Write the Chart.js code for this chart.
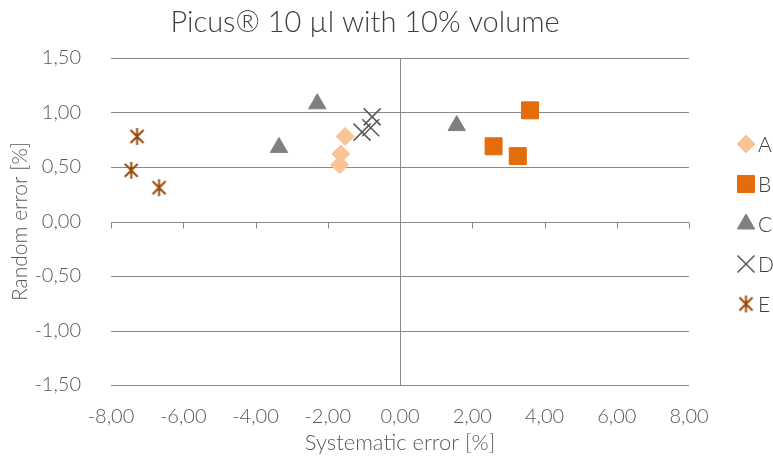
<!DOCTYPE html>
<html lang="en">
<head>
<meta charset="UTF-8">
<title>Picus 10 µl with 10% volume</title>
<script src="https://cdn.jsdelivr.net/npm/chart.js"></script>
<style>
  html, body { margin: 0; padding: 0; background: #fff; }
  #wrap { width: 773px; height: 462px; }
</style>
</head>
<body>
<div id="wrap"><canvas id="errChart"></canvas></div>
<script>
// values (systematic error, random error)
const seriesNames = ['A', 'B', 'C', 'D', 'E'];
const aX = [-1.52, -1.64, -1.67];
const aY = [0.78, 0.62, 0.52];
const bX = [3.60, 2.59, 3.26];
const bY = [1.02, 0.69, 0.60];
const cX = [-2.29, -3.35, 1.57];
const cY = [1.08, 0.68, 0.88];
const dX = [-0.77, -0.81, -1.05];
const dY = [0.96, 0.86, 0.82];
const eX = [-7.28, -7.44, -6.67];
const eY = [0.78, 0.47, 0.31];
const xTickValues = [-8, -6, -4, -2, 0, 2, 4, 6, 8];
const yTickValues = [-1.5, -1, -0.5, 0, 0.5, 1, 1.5];

const FONT = "Lato, 'Open Sans', sans-serif";
const gridGray = '#8a8a8a';

function pts(xs, ys) {
  return xs.map((x, i) => ({ x: x, y: ys[i] }));
}
function fmt(v) {
  return v.toFixed(2).replace('.', ',');
}

// asterisk marker like the spreadsheet one: vertical bar + X
function makeStar(color) {
  const s = 19;
  const c = document.createElement('canvas');
  c.width = s; c.height = s;
  const g = c.getContext('2d');
  g.strokeStyle = color;
  g.lineWidth = 2;
  g.beginPath();
  g.moveTo(s / 2, 1); g.lineTo(s / 2, s - 1);
  g.moveTo(3, 3); g.lineTo(s - 3, s - 3);
  g.moveTo(s - 3, 3); g.lineTo(3, s - 3);
  g.stroke();
  return c;
}
const starImg = makeStar('#984807');

const datasets = [
  { label: seriesNames[0], data: pts(aX, aY), pointStyle: 'rectRot', pointRadius: 9,
    backgroundColor: '#f9c395', borderColor: '#f9c395', borderWidth: 1 },
  { label: seriesNames[1], data: pts(bX, bY), pointStyle: 'rect', pointRadius: 12,
    backgroundColor: '#e46c0a', borderColor: '#e46c0a', borderWidth: 1 },
  { label: seriesNames[2], data: pts(cX, cY), pointStyle: 'triangle', pointRadius: 10,
    backgroundColor: '#808080', borderColor: '#808080', borderWidth: 1 },
  { label: seriesNames[3], data: pts(dX, dY), pointStyle: 'crossRot', pointRadius: 12,
    backgroundColor: '#595959', borderColor: '#595959', borderWidth: 1.5 },
  { label: seriesNames[4], data: pts(eX, eY), pointStyle: starImg, pointRadius: 10,
    backgroundColor: '#984807', borderColor: '#984807', borderWidth: 2 }
];

// gridlines plus small tick marks on the axes that cross at zero
const zeroAxisTicks = {
  id: 'zeroAxisTicks',
  beforeDatasetsDraw(chart) {
    const { ctx, chartArea, scales: { x, y } } = chart;
    const y0 = Math.round(y.getPixelForValue(0)) + 0.5;
    const x0 = Math.round(x.getPixelForValue(0)) + 0.5;
    ctx.save();
    ctx.strokeStyle = gridGray;
    ctx.lineWidth = 1;
    ctx.beginPath();
    yTickValues.forEach(v => {
      const py = Math.round(y.getPixelForValue(v)) + 0.5;
      ctx.moveTo(chartArea.left, py); ctx.lineTo(chartArea.right, py);
      ctx.moveTo(x0 - 6, py); ctx.lineTo(x0, py);
    });
    xTickValues.forEach(v => {
      const px = Math.round(x.getPixelForValue(v)) + 0.5;
      ctx.moveTo(px, y0); ctx.lineTo(px, y0 + 6);
    });
    ctx.moveTo(x0, chartArea.top); ctx.lineTo(x0, chartArea.bottom);
    ctx.stroke();
    ctx.restore();
  }
};

// title and legend placed like the original
const sideLegend = {
  id: 'sideLegend',
  afterDraw(chart) {
    const ctx = chart.ctx;
    ctx.save();
    ctx.fillStyle = '#404040';
    ctx.font = "300 29px " + FONT;
    ctx.textAlign = 'center';
    ctx.textBaseline = 'middle';
    ctx.fillText('Picus® 10 µl with 10% volume', 365, 23);

    ctx.font = "300 21px " + FONT;
    ctx.textAlign = 'left';
    chart.data.datasets.forEach((ds, i) => {
      const cy = 144 + i * 40;
      ctx.save();
      ctx.fillStyle = ds.backgroundColor;
      ctx.strokeStyle = ds.borderColor;
      ctx.lineWidth = ds.borderWidth;
      Chart.helpers.drawPoint(ctx, {
        pointStyle: ds.pointStyle, radius: ds.pointRadius,
        rotation: 0, borderWidth: ds.borderWidth
      }, 746, cy);
      ctx.restore();
      ctx.fillStyle = '#404040';
      ctx.fillText(ds.label, 758, cy + 1);
    });
    ctx.restore();
  }
};

new Chart(document.getElementById('errChart'), {
  type: 'scatter',
  data: { datasets: datasets },
  plugins: [zeroAxisTicks, sideLegend],
  options: {
    responsive: true,
    maintainAspectRatio: false,
    animation: false,
    layout: { padding: { top: 58, right: 84, bottom: 0, left: 0 } },
    plugins: {
      legend: { display: false },
      title: { display: false },
      tooltip: { enabled: false }
    },
    scales: {
      x: {
        type: 'linear',
        min: -8, max: 8,
        afterBuildTicks: s => { s.ticks = xTickValues.map(v => ({ value: v })); },
        afterFit: s => { s.height = 77; },
        border: { display: false },
        grid: { display: false },
        ticks: {
          padding: 12,
          color: '#595959',
          font: { family: FONT, size: 20, weight: '300' },
          callback: v => fmt(v)
        },
        title: {
          display: true,
          text: 'Systematic error [%]',
          color: '#595959',
          font: { family: FONT, size: 22, weight: '300' },
          padding: { top: 0, bottom: 6 }
        }
      },
      y: {
        type: 'linear',
        min: -1.5, max: 1.5,
        afterBuildTicks: s => { s.ticks = yTickValues.map(v => ({ value: v })); },
        afterFit: s => { s.width = 111; },
        border: { display: false },
        grid: { display: false },
        ticks: {
          padding: 22,
          color: '#595959',
          font: { family: FONT, size: 20, weight: '300' },
          callback: v => fmt(v)
        },
        title: {
          display: true,
          text: 'Random error [%]',
          color: '#595959',
          font: { family: FONT, size: 21, weight: '300' },
          padding: { top: 8, bottom: 0 }
        }
      }
    }
  }
});
</script>
</body>
</html>
